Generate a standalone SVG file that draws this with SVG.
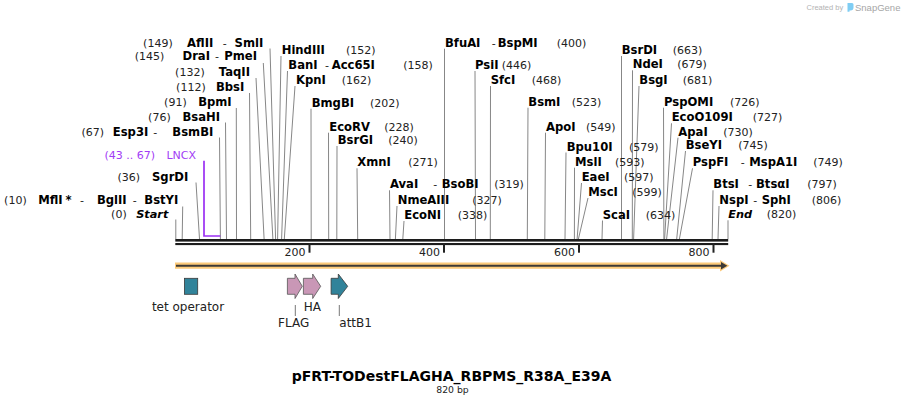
<svg xmlns="http://www.w3.org/2000/svg" width="904" height="405" viewBox="0 0 904 405">
<style>
text{font-family:"DejaVu Sans",Verdana,sans-serif;font-size:11px;fill:#222}
.b{font-weight:bold;font-size:11.6px;fill:#000}
.bi{font-weight:bold;font-style:italic;font-size:11.3px;fill:#000}
.e{text-anchor:end}
.p{fill:#a23cf5}
.f{font-size:12px;fill:#222}
.ln{stroke:#878787;stroke-width:1;fill:none}
.lead{stroke:#777;stroke-width:1}
.tk{fill:#222}
.teal{fill:#31839a;stroke:#3a3a3a;stroke-width:0.8}
.pink{fill:#c997b6;stroke:#555;stroke-width:0.8}
</style>
<rect width="904" height="405" fill="#fff"/>
<g id="watermark">
<text x="806.5" y="9.8" style="font-family:'Liberation Sans',Arial,sans-serif;font-size:7.5px;fill:#b3b3b3">Created by</text>
<path d="M847.5,3 h4.5 a1.5,1.5 0 0 1 1.5,1.5 v3 a3,3 0 0 1 -3,3 h-1 v1.2 h-2 z" fill="#7fcdf3"/>
<text x="855" y="10.5" style="font-family:'Liberation Sans',Arial,sans-serif;font-size:9.5px;fill:#a6a6a6">SnapGene</text>
</g>
<g id="connectors">
<line class="ln" x1="175.8" y1="219.5" x2="175.8" y2="239"/>
<line class="ln" x1="182.7" y1="206.5" x2="182.2" y2="239"/>
<line class="ln" x1="196" y1="182.5" x2="199.5" y2="239"/>
<line class="ln" x1="219.5" y1="137.5" x2="220.4" y2="239"/>
<line class="ln" x1="225.5" y1="122.5" x2="226.5" y2="239"/>
<line class="ln" x1="236.3" y1="108" x2="236.5" y2="239"/>
<line class="ln" x1="249.5" y1="93" x2="250.7" y2="239"/>
<line class="ln" x1="256" y1="78" x2="264.1" y2="239"/>
<line class="ln" x1="263.3" y1="63" x2="272.9" y2="239"/>
<line class="ln" x1="270" y1="48.5" x2="275.6" y2="239"/>
<line class="ln" x1="281" y1="56" x2="277.6" y2="239"/>
<line class="ln" x1="287.5" y1="71" x2="281.6" y2="239"/>
<line class="ln" x1="295" y1="86" x2="284.3" y2="239"/>
<line class="ln" x1="311" y1="108.7" x2="311.2" y2="239"/>
<line class="ln" x1="328.5" y1="132.7" x2="328.7" y2="239"/>
<line class="ln" x1="337" y1="146" x2="336.8" y2="239"/>
<line class="ln" x1="357" y1="168.3" x2="357.7" y2="239"/>
<line class="ln" x1="389.5" y1="190.3" x2="390" y2="239"/>
<line class="ln" x1="397" y1="206" x2="395.4" y2="239"/>
<line class="ln" x1="404" y1="221" x2="402.8" y2="239"/>
<line class="ln" x1="444.5" y1="48.7" x2="444.5" y2="239"/>
<line class="ln" x1="475" y1="71" x2="475.5" y2="239"/>
<line class="ln" x1="490.5" y1="86" x2="490.3" y2="239"/>
<line class="ln" x1="528" y1="107.7" x2="527.3" y2="239"/>
<line class="ln" x1="545.5" y1="132.7" x2="544.8" y2="239"/>
<line class="ln" x1="566" y1="152.5" x2="565" y2="239"/>
<line class="ln" x1="574.5" y1="167.7" x2="574.4" y2="239"/>
<line class="ln" x1="581.5" y1="183" x2="577.1" y2="239"/>
<line class="ln" x1="588" y1="198" x2="578.4" y2="239"/>
<line class="ln" x1="602.5" y1="220.5" x2="602" y2="239"/>
<line class="ln" x1="621.5" y1="56" x2="621.5" y2="239"/>
<line class="ln" x1="632.5" y1="70.3" x2="632.3" y2="239"/>
<line class="ln" x1="639" y1="86" x2="633.6" y2="239"/>
<line class="ln" x1="663.5" y1="107.7" x2="663.9" y2="239"/>
<line class="ln" x1="671.5" y1="123.3" x2="664.6" y2="239"/>
<line class="ln" x1="678" y1="137.7" x2="666.6" y2="239"/>
<line class="ln" x1="685.5" y1="151" x2="676.7" y2="239"/>
<line class="ln" x1="692.5" y1="168.3" x2="679.4" y2="239"/>
<line class="ln" x1="713" y1="190.3" x2="712.2" y2="239"/>
<line class="ln" x1="719" y1="206" x2="718" y2="239"/>
<line class="ln" x1="728" y1="220.3" x2="728" y2="239"/>
<path d="M204,160.7 V236 H220.4" fill="none" stroke="#9b30f2" stroke-width="1.7"/>
<line class="lead" x1="295.3" y1="305" x2="295.3" y2="316"/>
<line class="lead" x1="339.3" y1="305" x2="339.3" y2="316"/>
</g>
<g id="backbone">
<rect x="175.3" y="239" width="552.9" height="2.6" fill="#1c1c1c"/>
<rect x="175.3" y="243" width="552.9" height="2.1" fill="#1c1c1c"/>
<rect class="tk" x="308.5" y="243" width="2" height="9.7"/>
<rect class="tk" x="443" y="243" width="2" height="9.7"/>
<rect class="tk" x="578" y="243" width="2" height="9.7"/>
<rect class="tk" x="712.5" y="243" width="2" height="9.7"/>
<text class="e" x="305.5" y="255.7">200</text>
<text class="e" x="440" y="255.7">400</text>
<text class="e" x="575" y="255.7">600</text>
<text class="e" x="709.5" y="255.7">800</text>
</g>
<g id="orf">
<path d="M175,262.6 H720 L720,260 L729.5,265.7 L720,271.4 L720,268.8 H175 Z" fill="#fcca7a"/>
<line x1="176" y1="265.7" x2="722" y2="265.7" stroke="#3d3a36" stroke-width="2"/>
<path d="M721,262 L727.3,265.7 L721,269.4 Z" fill="#3d3a36"/>
</g>
<g id="tet-operator">
<rect class="teal" x="184.4" y="278.3" width="13.3" height="16"/>
<text class="f" x="188" y="310.5" text-anchor="middle">tet operator</text>
</g>
<g id="FLAG">
<path class="pink" d="M287.4,278.3 H295 V274 L302.3,286.3 L295,298.5 V294.3 H287.4 Z"/>
<text class="f" x="293.7" y="326.5" text-anchor="middle">FLAG</text>
</g>
<g id="HA">
<path class="pink" d="M303.4,278.3 H312.7 V274 L320.7,286.3 L312.7,298.5 V294.3 H303.4 Z"/>
<text class="f" x="312.3" y="310.5" text-anchor="middle">HA</text>
</g>
<g id="attB1">
<path class="teal" d="M331.1,278.3 H338.3 V274 L347.7,286.3 L338.3,298.5 V294.3 H331.1 Z"/>
<text class="f" x="339.3" y="326.5">attB1</text>
</g>
<g id="LNCX">
<text class="e p" y="159"><tspan x="155">(43 .. 67)</tspan><tspan x="196">LNCX</tspan></text>
</g>
<g id="site-0"><text class="e" y="218.3"><tspan x="126.7">(0)</tspan><tspan class="bi" x="168.3">Start</tspan></text></g>
<g id="site-10"><text class="e" y="204"><tspan x="26.7">(10)</tspan><tspan class="b" x="62.7">MflI</tspan><tspan class="b" x="71.7">*</tspan><tspan x="84">-</tspan><tspan class="b" x="126.7">BglII</tspan><tspan x="136.7">-</tspan><tspan class="b" x="178.3">BstYI</tspan></text></g>
<g id="site-36"><text class="e" y="180.7"><tspan x="140">(36)</tspan><tspan class="b" x="188.3">SgrDI</tspan></text></g>
<g id="site-67"><text class="e" y="135.7"><tspan x="104">(67)</tspan><tspan class="b" x="148.3">Esp3I</tspan><tspan x="157.3">-</tspan><tspan class="b" x="213.3">BsmBI</tspan></text></g>
<g id="site-76"><text class="e" y="120.7"><tspan x="170.7">(76)</tspan><tspan class="b" x="220">BsaHI</tspan></text></g>
<g id="site-91"><text class="e" y="105.7"><tspan x="186.7">(91)</tspan><tspan class="b" x="231.7">BpmI</tspan></text></g>
<g id="site-112"><text class="e" y="91"><tspan x="205.7">(112)</tspan><tspan class="b" x="244.3">BbsI</tspan></text></g>
<g id="site-132"><text class="e" y="75.7"><tspan x="204.7">(132)</tspan><tspan class="b" x="250">TaqII</tspan></text></g>
<g id="site-145"><text class="e" y="60"><tspan x="164.3">(145)</tspan><tspan class="b" x="210">DraI</tspan><tspan x="219">-</tspan><tspan class="b" x="257">PmeI</tspan></text></g>
<g id="site-149"><text class="e" y="47.3"><tspan x="172.7">(149)</tspan><tspan class="b" x="213.3">AflII</tspan><tspan x="226.7">-</tspan><tspan class="b" x="263.3">SmlI</tspan></text></g>
<g id="site-152"><text y="54"><tspan class="b" x="281.7">HindIII</tspan><tspan x="346">(152)</tspan></text></g>
<g id="site-158"><text y="69"><tspan class="b" x="288.3">BanI</tspan><tspan x="325">-</tspan><tspan class="b" x="331.7">Acc65I</tspan><tspan x="403.3">(158)</tspan></text></g>
<g id="site-162"><text y="84"><tspan class="b" x="296">KpnI</tspan><tspan x="341.7">(162)</tspan></text></g>
<g id="site-202"><text y="106.7"><tspan class="b" x="311.7">BmgBI</tspan><tspan x="370">(202)</tspan></text></g>
<g id="site-228"><text y="130.7"><tspan class="b" x="329.3">EcoRV</tspan><tspan x="384.3">(228)</tspan></text></g>
<g id="site-240"><text y="144"><tspan class="b" x="337.7">BsrGI</tspan><tspan x="388.3">(240)</tspan></text></g>
<g id="site-271"><text y="166.3"><tspan class="b" x="357.3">XmnI</tspan><tspan x="408.3">(271)</tspan></text></g>
<g id="site-319"><text y="188.3"><tspan class="b" x="390">AvaI</tspan><tspan x="433.3">-</tspan><tspan class="b" x="441.7">BsoBI</tspan><tspan x="494.3">(319)</tspan></text></g>
<g id="site-327"><text y="204"><tspan class="b" x="397.7">NmeAIII</tspan><tspan x="472.3">(327)</tspan></text></g>
<g id="site-338"><text y="219"><tspan class="b" x="404.3">EcoNI</tspan><tspan x="457.7">(338)</tspan></text></g>
<g id="site-400"><text y="46.7"><tspan class="b" x="445">BfuAI</tspan><tspan x="491.7">-</tspan><tspan class="b" x="497.7">BspMI</tspan><tspan x="556.7">(400)</tspan></text></g>
<g id="site-446"><text y="69"><tspan class="b" x="475">PsiI</tspan><tspan x="501.7">(446)</tspan></text></g>
<g id="site-468"><text y="84"><tspan class="b" x="490.7">SfcI</tspan><tspan x="531.7">(468)</tspan></text></g>
<g id="site-523"><text y="105.7"><tspan class="b" x="528.3">BsmI</tspan><tspan x="571.7">(523)</tspan></text></g>
<g id="site-549"><text y="130.7"><tspan class="b" x="546">ApoI</tspan><tspan x="586">(549)</tspan></text></g>
<g id="site-579"><text y="150.5"><tspan class="b" x="566.7">Bpu10I</tspan><tspan x="629">(579)</tspan></text></g>
<g id="site-593"><text y="165.7"><tspan class="b" x="575">MslI</tspan><tspan x="615">(593)</tspan></text></g>
<g id="site-597"><text y="181"><tspan class="b" x="581.7">EaeI</tspan><tspan x="624">(597)</tspan></text></g>
<g id="site-599"><text y="196"><tspan class="b" x="588.3">MscI</tspan><tspan x="632.3">(599)</tspan></text></g>
<g id="site-634"><text y="218.5"><tspan class="b" x="602.7">ScaI</tspan><tspan x="645.7">(634)</tspan></text></g>
<g id="site-663"><text y="54"><tspan class="b" x="621.7">BsrDI</tspan><tspan x="672.7">(663)</tspan></text></g>
<g id="site-679"><text y="68.3"><tspan class="b" x="632.7">NdeI</tspan><tspan x="677.3">(679)</tspan></text></g>
<g id="site-681"><text y="84"><tspan class="b" x="639.3">BsgI</tspan><tspan x="682.7">(681)</tspan></text></g>
<g id="site-726"><text y="105.7"><tspan class="b" x="664">PspOMI</tspan><tspan x="730">(726)</tspan></text></g>
<g id="site-727"><text y="121.3"><tspan class="b" x="671.7">EcoO109I</tspan><tspan x="752.7">(727)</tspan></text></g>
<g id="site-730"><text y="135.7"><tspan class="b" x="678.3">ApaI</tspan><tspan x="723.3">(730)</tspan></text></g>
<g id="site-745"><text y="149"><tspan class="b" x="685.7">BseYI</tspan><tspan x="738.3">(745)</tspan></text></g>
<g id="site-749"><text y="166.3"><tspan class="b" x="692.7">PspFI</tspan><tspan x="740.7">-</tspan><tspan class="b" x="749.3">MspA1I</tspan><tspan x="813.3">(749)</tspan></text></g>
<g id="site-797"><text y="188.3"><tspan class="b" x="713.3">BtsI</tspan><tspan x="748.3">-</tspan><tspan class="b" x="756">BtsαI</tspan><tspan x="807.3">(797)</tspan></text></g>
<g id="site-806"><text y="204"><tspan class="b" x="719.3">NspI</tspan><tspan x="753.3">-</tspan><tspan class="b" x="761.7">SphI</tspan><tspan x="811.7">(806)</tspan></text></g>
<g id="site-820"><text y="218.3"><tspan class="bi" x="728.3">End</tspan><tspan x="766.7">(820)</tspan></text></g>
<g id="title">
<text x="451.5" y="380.6" text-anchor="middle" style="font-size:14px;font-weight:bold;fill:#000">pFRT-TODestFLAGHA_RBPMS_R38A_E39A</text>
<text x="452.5" y="393" text-anchor="middle" style="font-size:9.3px">820 bp</text>
</g>
</svg>
